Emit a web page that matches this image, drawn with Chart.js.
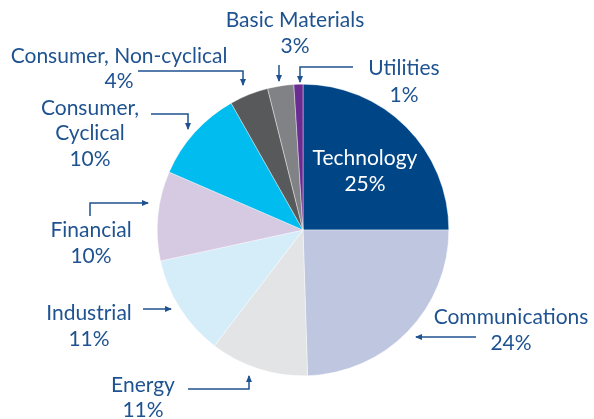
<!DOCTYPE html>
<html>
<head>
<meta charset="utf-8">
<script src="https://cdn.jsdelivr.net/npm/chart.js@4.4.1/dist/chart.umd.min.js"></script>
<style>
  html, body { margin: 0; padding: 0; background: #fff; }
  #wrap { width: 594px; height: 419px; position: relative; }
</style>
</head>
<body>
<div id="wrap"><canvas id="grafico"></canvas></div>
<script>
(function () {
  // dados (sentido horário a partir do topo)
  const setores = ["Technology", "Communications", "Energy", "Industrial", "Financial",
    "Consumer, Cyclical", "Consumer, Non-cyclical", "Basic Materials", "Utilities"];
  const valores = [25.0, 24.5, 10.9, 11.2, 9.9, 10.3, 4.3, 2.9, 1.0];
  const rotulosPct = ["25%", "24%", "11%", "11%", "10%", "10%", "4%", "3%", "1%"];
  const cores = ["#004687", "#bec6e0", "#e3e4e6", "#d5ecf9", "#d6c9e2",
    "#00bcef", "#58595b", "#818285", "#6b2c91"];

  const corTexto = "#1e5290";
  const fonte = "Lato, 'Open Sans', sans-serif";

  // posição dos rótulos (linhas de texto) e das setas
  const rotulos = [
    { linhas: ["Technology", rotulosPct[0]], x: 365, y: [158, 184], cor: "#ffffff" },
    { linhas: ["Communications", rotulosPct[1]], x: 511, y: [317, 343] },
    { linhas: ["Energy", rotulosPct[2]], x: 143, y: [385, 410] },
    { linhas: ["Industrial", rotulosPct[3]], x: 89, y: [313, 339] },
    { linhas: ["Financial", rotulosPct[4]], x: 91, y: [230, 256] },
    { linhas: ["Consumer,", "Cyclical", rotulosPct[5]], x: 90, y: [108, 133, 159] },
    { linhas: ["Consumer, Non-cyclical", rotulosPct[6]], x: 119, y: [56, 81] },
    { linhas: ["Basic Materials", rotulosPct[7]], x: 295, y: [20, 46] },
    { linhas: ["Utilities", rotulosPct[8]], x: 404, y: [68, 95] }
  ];
  const setas = [
    [[476, 337], [416, 337]],
    [[188, 389], [249, 389], [249, 376]],
    [[143, 309], [171, 309]],
    [[90, 216], [90, 203], [148, 203]],
    [[151, 114], [188, 114], [188, 129]],
    [[138, 71], [243, 71], [243, 85]],
    [[279, 65], [279, 81]],
    [[353, 67], [300, 67], [300, 82]]
  ];

  const pluginRotulos = {
    id: "rotulos",
    afterDraw(chart) {
      const ctx = chart.ctx;
      ctx.save();
      ctx.font = "21px " + fonte;
      ctx.textAlign = "center";
      ctx.textBaseline = "middle";
      rotulos.forEach(r => {
        ctx.fillStyle = r.cor || corTexto;
        r.linhas.forEach((t, i) => ctx.fillText(t, r.x, r.y[i]));
      });
      ctx.strokeStyle = corTexto;
      ctx.fillStyle = corTexto;
      ctx.lineWidth = 1.5;
      setas.forEach(pts => {
        ctx.beginPath();
        ctx.moveTo(pts[0][0], pts[0][1]);
        for (let i = 1; i < pts.length; i++) ctx.lineTo(pts[i][0], pts[i][1]);
        ctx.stroke();
        const a = pts[pts.length - 2], b = pts[pts.length - 1];
        const ang = Math.atan2(b[1] - a[1], b[0] - a[0]);
        ctx.save();
        ctx.translate(b[0], b[1]);
        ctx.rotate(ang);
        ctx.beginPath();
        ctx.moveTo(1, 0);
        ctx.lineTo(-6, -3);
        ctx.lineTo(-6, 3);
        ctx.closePath();
        ctx.fill();
        ctx.restore();
      });
      ctx.restore();
    }
  };

  new Chart(document.getElementById("grafico"), {
    type: "pie",
    data: {
      labels: setores,
      datasets: [{ data: valores, backgroundColor: cores, borderWidth: 0.4, borderColor: "#ffffff" }]
    },
    options: {
      responsive: true,
      maintainAspectRatio: false,
      animation: false,
      layout: { padding: { left: 157, right: 145, top: 84, bottom: 43 } },
      plugins: { legend: { display: false }, tooltip: { enabled: false } }
    },
    plugins: [pluginRotulos]
  });
})();
</script>
</body>
</html>
